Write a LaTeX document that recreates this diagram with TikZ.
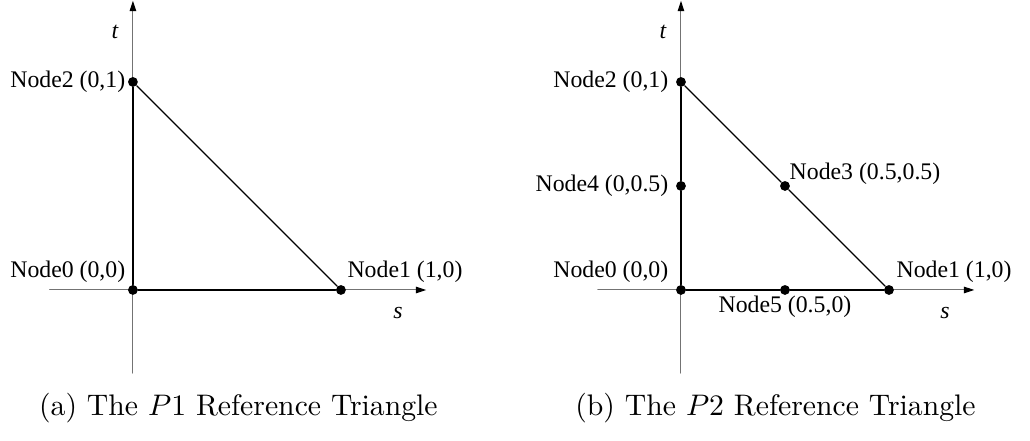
\documentclass[tikz,border=0pt]{standalone}
\usepackage{fontspec}
\newfontfamily\lblfont{Liberation Serif}
\usetikzlibrary{arrows.meta}
\tikzset{
  dot/.style={circle, fill=black, inner sep=0pt, minimum size=3.3pt},
  lbl/.style={font=\lblfont\fontsize{8}{9.6}\selectfont, inner sep=0pt},
  axis/.style={draw=black!55, line width=0.35pt, -{Stealth[length=3.5pt,width=2.2pt,inset=0pt,black]}},
  leg/.style={line width=0.75pt},
  hyp/.style={line width=0.45pt},
  captext/.style={font=\fontsize{10}{12}\selectfont, inner sep=0pt}
}
\begin{document}
\begin{tikzpicture}[x=2.46cm, y=2.46cm, line join=round, line cap=round]
  \useasboundingbox (-0.639,-0.726) rectangle (4.3125,1.394);
  % (a) P1 triangle
  \begin{scope}
    \coordinate (a-sl) at (-0.4,0);
    \coordinate (a-sr) at (1.41,0);
    \coordinate (a-tb) at (0,-0.4);
    \coordinate (a-tt) at (0,1.39);
    \draw[axis] (a-sl) -- (a-sr);
    \draw[axis] (a-tb) -- (a-tt);
    \node[dot] (a0) at (0,0) {};
    \node[dot] (a1) at (1,0) {};
    \node[dot] (a2) at (0,1) {};
    \draw[leg] (a0) -- (a1);
    \draw[leg] (a0) -- (a2);
    \draw[hyp] (a1) -- (a2);
    \node[lbl, anchor=east] (a0l) at (-0.034,0.087) {Node0 (0,0)};
    \node[lbl, anchor=west] (a1l) at (1.029,0.087) {Node1 (1,0)};
    \node[lbl, anchor=east] (a2l) at (-0.034,1) {Node2 (0,1)};
    \node[lbl] (at) at (-0.087,1.24) {\itshape t};
    \node[lbl] (as) at (1.274,-0.111) {\itshape s};
  \end{scope}
  % (b) P2 triangle
  \begin{scope}[shift={(2.6346,0)}]
    \coordinate (b-sl) at (-0.4,0);
    \coordinate (b-sr) at (1.41,0);
    \coordinate (b-tb) at (0,-0.4);
    \coordinate (b-tt) at (0,1.39);
    \draw[axis] (b-sl) -- (b-sr);
    \draw[axis] (b-tb) -- (b-tt);
    \node[dot] (b0) at (0,0) {};
    \node[dot] (b1) at (1,0) {};
    \node[dot] (b2) at (0,1) {};
    \node[dot] (b3) at (0.5,0.5) {};
    \node[dot] (b4) at (0,0.5) {};
    \node[dot] (b5) at (0.5,0) {};
    \draw[leg] (b0) -- (b5) -- (b1);
    \draw[leg] (b0) -- (b4) -- (b2);
    \draw[hyp] (b1) -- (b3) -- (b2);
    \node[lbl, anchor=east] (b0l) at (-0.058,0.087) {Node0 (0,0)};
    \node[lbl, anchor=west] (b1l) at (1.034,0.087) {Node1 (1,0)};
    \node[lbl, anchor=east] (b2l) at (-0.058,1) {Node2 (0,1)};
    \node[lbl, anchor=west] (b3l) at (0.52,0.56) {Node3 (0.5,0.5)};
    \node[lbl, anchor=east] (b4l) at (-0.058,0.5) {Node4 (0,0.5)};
    \node[lbl] (b5l) at (0.5,-0.082) {Node5 (0.5,0)};
    \node[lbl] (bt) at (-0.087,1.24) {\itshape t};
    \node[lbl] (bs) at (1.269,-0.111) {\itshape s};
  \end{scope}
  % captions
  \node[captext] (acap) at (0.507,-0.567) {(a) The $P1$ Reference Triangle};
  \node[captext] (bcap) at (3.089,-0.567) {(b) The $P2$ Reference Triangle};
\end{tikzpicture}
\end{document}
